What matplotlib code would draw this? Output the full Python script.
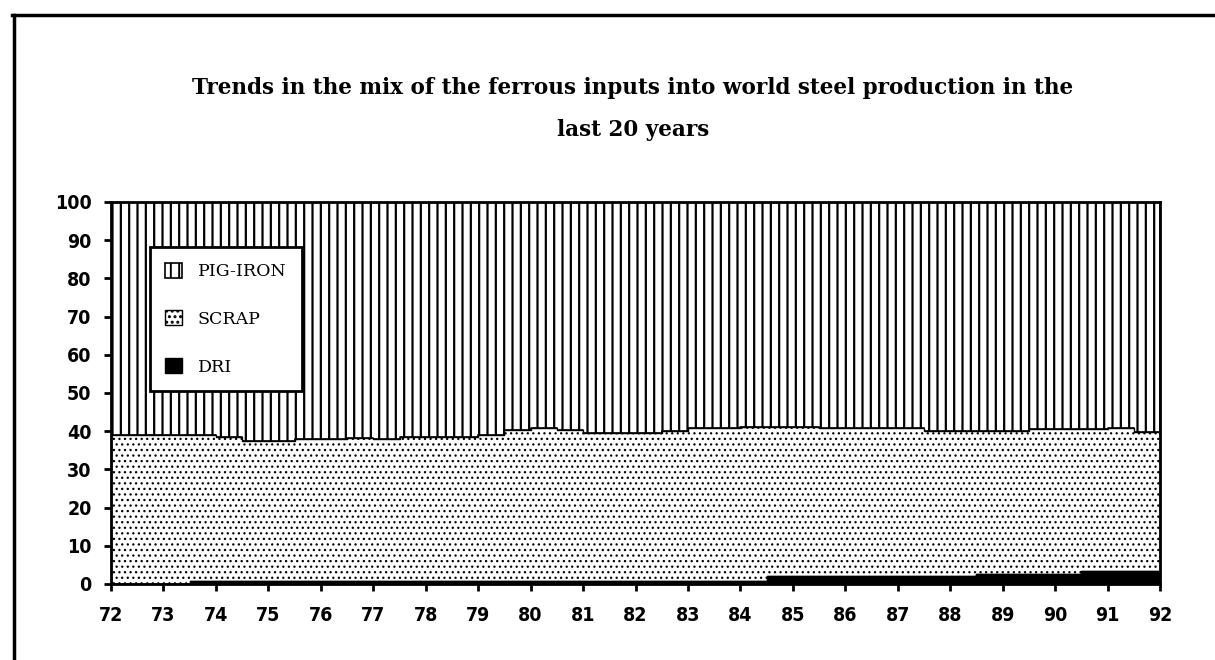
import numpy as np
import matplotlib
matplotlib.use("Agg")
import matplotlib.pyplot as plt
from matplotlib.lines import Line2D

# Datos (cada medio anio, 72.0 .. 91.5)
years = [72.0 + 0.5 * i for i in range(40)]
dri = [0.0, 0.0, 0.0] + [0.7] * 22 + [2.0] * 8 + [2.5] * 4 + [3.3] * 3
scrap = [39.0, 39.0, 39.0, 38.3, 37.7, 36.7, 36.7, 37.3, 37.3, 37.6,
         37.2, 37.8, 37.8, 37.8, 38.3, 39.6, 40.2, 39.6, 38.9, 38.9,
         38.9, 39.4, 40.1, 40.1, 40.5, 39.2, 39.2, 38.8, 38.8, 38.8,
         38.8, 38.1, 38.1, 37.6, 37.6, 38.0, 38.0, 37.2, 37.6, 36.5]
pig_iron = [61.0, 61.0, 61.0, 61.0, 61.6, 62.6, 62.6, 62.0, 62.0, 61.7,
            62.1, 61.5, 61.5, 61.5, 61.0, 59.7, 59.1, 59.7, 60.4, 60.4,
            60.4, 59.9, 59.2, 59.2, 58.8, 58.8, 58.8, 59.2, 59.2, 59.2,
            59.2, 59.9, 59.9, 59.9, 59.9, 59.5, 59.5, 59.5, 59.1, 60.2]
labels = ["PIG-IRON", "SCRAP", "DRI"]
xticks = list(range(72, 93))

# cerrar el ultimo escalon en 92
x = np.array(years + [92.0])
d = np.array(dri + [dri[-1]])
s = np.array(scrap + [scrap[-1]])
p = np.array(pig_iron + [pig_iron[-1]])
top_dri = d
top_scrap = d + s
top_pig = top_scrap + p

plt.rcParams["hatch.color"] = "black"

fig = plt.figure(figsize=(12.15, 6.6), dpi=100)
ax = fig.add_axes([0.0914, 0.1152, 0.8633, 0.5788])

plt.rcParams["hatch.linewidth"] = 1.6
h_pig = ax.fill_between(x, top_scrap, top_pig, step="post", facecolor="white",
                        edgecolor="black", hatch="||", linewidth=1.2, label=labels[0])
plt.rcParams["hatch.linewidth"] = 0.9
h_scr = ax.fill_between(x, top_dri, top_scrap, step="post", facecolor="white",
                        edgecolor="black", hatch="...", linewidth=1.0, label=labels[1])
h_dri = ax.fill_between(x, 0, top_dri, step="post", facecolor="black",
                        edgecolor="black", linewidth=1.0, label=labels[2])

ax.set_xlim(72, 92)
ax.set_ylim(0, 100)
ax.set_xticks(xticks)
ax.set_xticklabels([str(v) for v in xticks])
ax.set_yticks(range(0, 101, 10))
for sp in ax.spines.values():
    sp.set_linewidth(2)
ax.tick_params(axis="both", direction="out", length=5, width=2)
ax.tick_params(axis="x", pad=11)
ax.tick_params(axis="y", pad=9)
for t in ax.get_xticklabels() + ax.get_yticklabels():
    t.set_family("DejaVu Sans")
    t.set_fontstretch("condensed")
    t.set_fontweight("bold")
    t.set_fontsize(14)

plt.rcParams["hatch.linewidth"] = 1.4
leg = ax.legend(handles=[h_pig, h_scr, h_dri], loc="upper left",
                bbox_to_anchor=(0.037, 0.882), borderaxespad=0, fancybox=False,
                framealpha=1, edgecolor="black", labelspacing=1.75,
                handlelength=0.95, handleheight=0.95, handletextpad=0.9,
                borderpad=0.9, prop={"family": "DejaVu Serif", "size": 12.5})
leg.get_frame().set_linewidth(2)

fig.text(0.521, 0.835, "Trends in the mix of the ferrous inputs into world steel production in the\nlast 20 years",
         ha="center", va="center", family="DejaVu Serif", fontweight="bold",
         fontsize=15.5, linespacing=2.15)

# marco exterior
fig.add_artist(Line2D([14 / 1215, 14 / 1215], [0, 1 - 15 / 660], color="black", lw=2.5))
fig.add_artist(Line2D([12 / 1215, 1], [1 - 15 / 660, 1 - 15 / 660], color="black", lw=2.5))

plt.savefig("out.png", dpi=100)
